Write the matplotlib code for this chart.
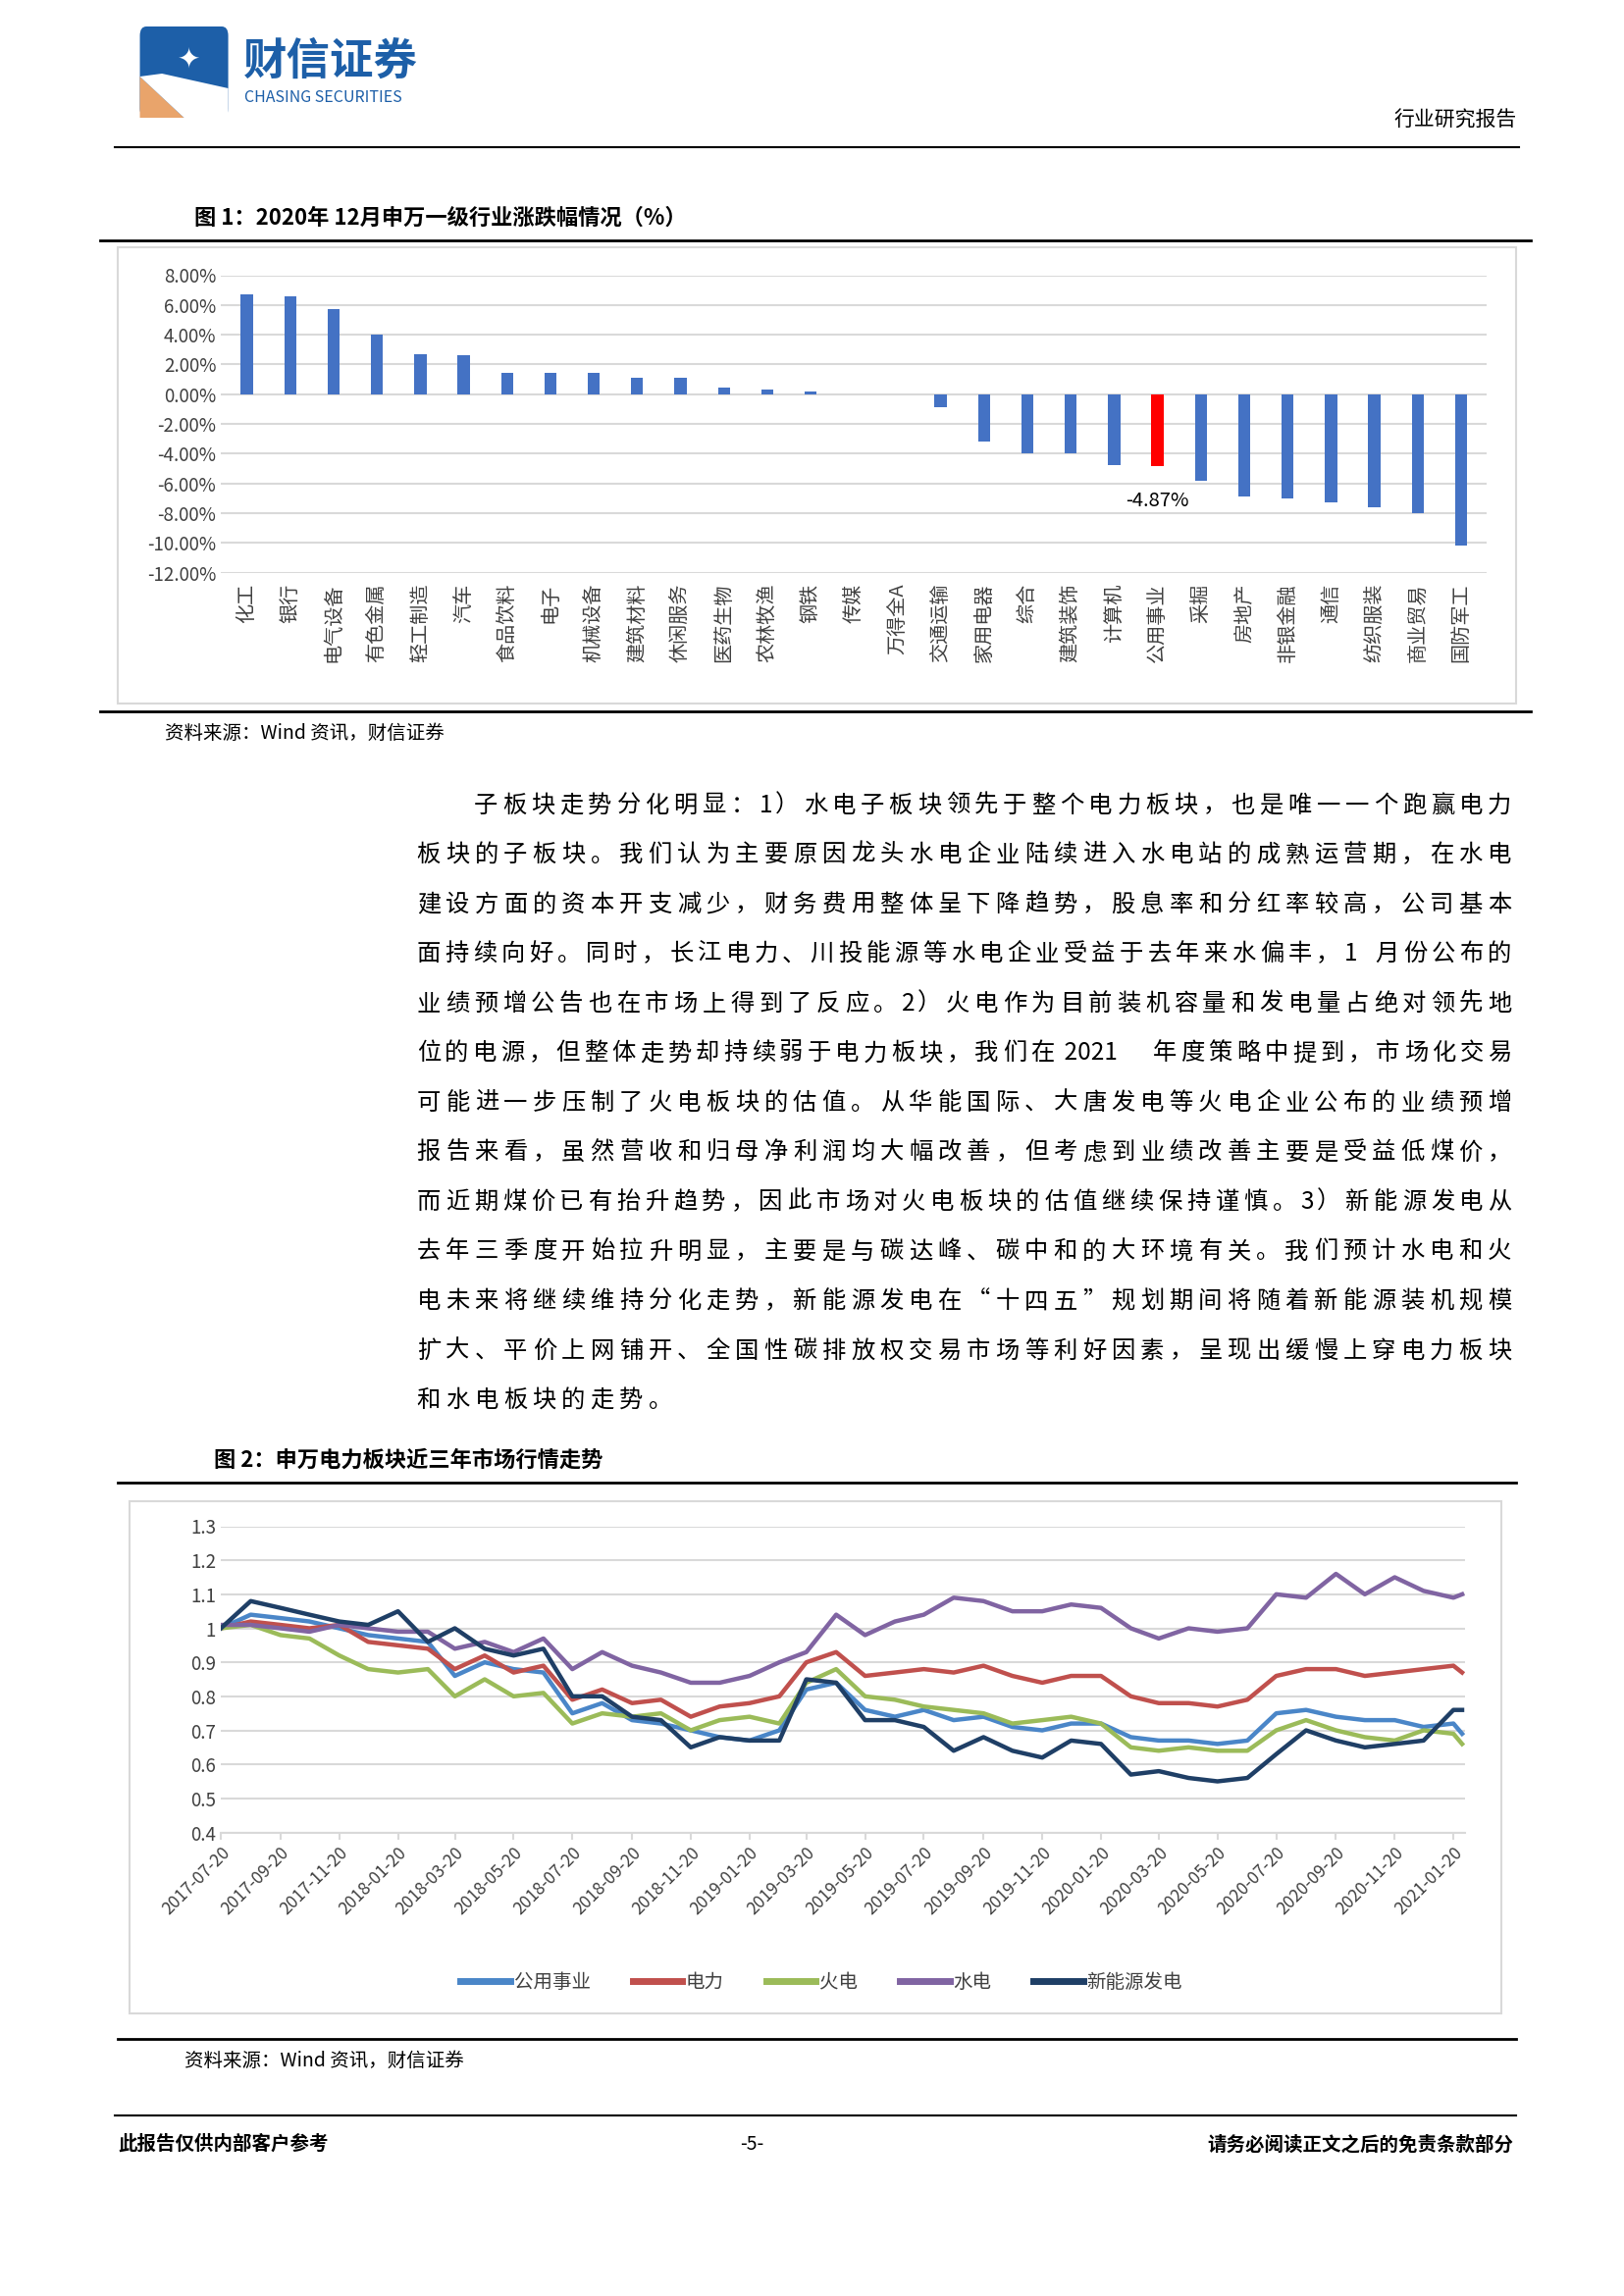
import matplotlib
matplotlib.use("Agg")
import matplotlib.pyplot as plt
import matplotlib.patches as mpatches
import numpy as np
import pandas as pd

plt.rcParams['font.family'] = ['Noto Sans CJK SC', 'DejaVu Sans']

# ---------------- data ----------------
industries = ["化工","银行","电气设备","有色金属","轻工制造","汽车","食品饮料","电子","机械设备","建筑材料",
              "休闲服务","医药生物","农林牧渔","钢铁","传媒","万得全A","交通运输","家用电器","综合","建筑装饰",
              "计算机","公用事业","采掘","房地产","非银金融","通信","纺织服装","商业贸易","国防军工"]
changes = [6.7,6.6,5.7,4.0,2.7,2.6,1.4,1.4,1.4,1.1,1.1,0.45,0.3,0.15,-0.05,-0.05,-0.9,-3.2,-4.0,-4.0,
           -4.8,-4.87,-5.8,-6.9,-7.0,-7.3,-7.6,-8.0,-10.2]

dates = list(pd.date_range("2017-07-01", "2021-01-01", freq="MS") + pd.Timedelta(days=19)) + [pd.Timestamp("2021-01-29")]
utility = [1.00,1.04,1.03,1.02,1.00,0.98,0.97,0.96,0.86,0.90,0.88,0.87,0.75,0.78,0.73,0.72,0.70,0.68,0.67,0.70,
           0.82,0.84,0.76,0.74,0.76,0.73,0.74,0.71,0.70,0.72,0.72,0.68,0.67,0.67,0.66,0.67,0.75,0.76,0.74,0.73,
           0.73,0.71,0.72,0.69]
power = [1.00,1.02,1.01,1.00,1.01,0.96,0.95,0.94,0.88,0.92,0.87,0.89,0.79,0.82,0.78,0.79,0.74,0.77,0.78,0.80,
         0.90,0.93,0.86,0.87,0.88,0.87,0.89,0.86,0.84,0.86,0.86,0.80,0.78,0.78,0.77,0.79,0.86,0.88,0.88,0.86,
         0.87,0.88,0.89,0.87]
thermal = [1.00,1.01,0.98,0.97,0.92,0.88,0.87,0.88,0.80,0.85,0.80,0.81,0.72,0.75,0.74,0.75,0.70,0.73,0.74,0.72,
           0.84,0.88,0.80,0.79,0.77,0.76,0.75,0.72,0.73,0.74,0.72,0.65,0.64,0.65,0.64,0.64,0.70,0.73,0.70,0.68,
           0.67,0.70,0.69,0.66]
hydro = [1.01,1.01,1.00,0.99,1.01,1.00,0.99,0.99,0.94,0.96,0.93,0.97,0.88,0.93,0.89,0.87,0.84,0.84,0.86,0.90,
         0.93,1.04,0.98,1.02,1.04,1.09,1.08,1.05,1.05,1.07,1.06,1.00,0.97,1.00,0.99,1.00,1.10,1.09,1.16,1.10,
         1.15,1.11,1.09,1.10]
newenergy = [1.00,1.08,1.06,1.04,1.02,1.01,1.05,0.96,1.00,0.94,0.92,0.94,0.80,0.80,0.74,0.73,0.65,0.68,0.67,0.67,
             0.85,0.84,0.73,0.73,0.71,0.64,0.68,0.64,0.62,0.67,0.66,0.57,0.58,0.56,0.55,0.56,0.63,0.70,0.67,0.65,
             0.66,0.67,0.76,0.76]
series_names = ["公用事业","电力","火电","水电","新能源发电"]
series_colors = ["#4a86c8","#c0504d","#9bbb59","#8064a2","#1f3f66"]
tick_dates = pd.date_range("2017-07-01", "2021-01-01", freq="2MS") + pd.Timedelta(days=19)

paragraph = [
 "子板块走势分化明显：1）水电子板块领先于整个电力板块，也是唯一一个跑赢电力",
 "板块的子板块。我们认为主要原因龙头水电企业陆续进入水电站的成熟运营期，在水电",
 "建设方面的资本开支减少，财务费用整体呈下降趋势，股息率和分红率较高，公司基本",
 "面持续向好。同时，长江电力、川投能源等水电企业受益于去年来水偏丰，1 月份公布的",
 "业绩预增公告也在市场上得到了反应。2）火电作为目前装机容量和发电量占绝对领先地",
 "位的电源，但整体走势却持续弱于电力板块，我们在 2021 年度策略中提到，市场化交易",
 "可能进一步压制了火电板块的估值。从华能国际、大唐发电等火电企业公布的业绩预增",
 "报告来看，虽然营收和归母净利润均大幅改善，但考虑到业绩改善主要是受益低煤价，",
 "而近期煤价已有抬升趋势，因此市场对火电板块的估值继续保持谨慎。3）新能源发电从",
 "去年三季度开始拉升明显，主要是与碳达峰、碳中和的大环境有关。我们预计水电和火",
 "电未来将继续维持分化走势，新能源发电在“十四五”规划期间将随着新能源装机规模",
 "扩大、平价上网铺开、全国性碳排放权交易市场等利好因素，呈现出缓慢上穿电力板块",
 "和水电板块的走势。",
]

# ---------------- layout helpers (display coords of a 1103x1560 page) ----------------
W, H = 1103.0, 1560.0
fig = plt.figure(figsize=(16.55, 23.4), dpi=100)
fig.patch.set_facecolor("white")
def fx(x): return x / W
def fy(y): return 1 - y / H
def hline(x0, x1, y, lw=1.5):
    fig.add_artist(plt.Line2D([fx(x0), fx(x1)], [fy(y), fy(y)], color="black", lw=lw))
def box(x0, y0, x1, y1):
    fig.add_artist(mpatches.Rectangle((fx(x0), fy(y1)), fx(x1)-fx(x0), fy(y0)-fy(y1),
                   fill=False, edgecolor="#d9d9d9", lw=1.5))
def axes_px(x0, y0, x1, y1):
    return fig.add_axes([fx(x0), fy(y1), fx(x1)-fx(x0), fy(y0)-fy(y1)])

# header / logo
fig.add_artist(mpatches.FancyBboxPatch((fx(95), fy(80)), fx(60), fy(18)-fy(80),
               boxstyle="round,pad=0,rounding_size=0.004", facecolor="#1d5fa8", edgecolor="none"))
fig.add_artist(mpatches.Polygon([(fx(95), fy(80)), (fx(95), fy(52)), (fx(125), fy(80))],
               closed=True, facecolor="#e9a46b", edgecolor="none"))
fig.add_artist(mpatches.Polygon([(fx(95), fy(52)), (fx(125), fy(80)), (fx(155), fy(80)), (fx(155), fy(60)), (fx(110), fy(50))],
               closed=True, facecolor="white", edgecolor="none"))
fig.text(fx(128), fy(40), "✦", fontsize=20, color="white", ha="center", va="center", family=["DejaVu Sans"])
fig.text(fx(165), fy(42), "财信证券", fontsize=32, color="#1d5fa8", ha="left", va="center", fontweight="bold")
fig.text(fx(166), fy(66), "CHASING SECURITIES", fontsize=11.5, color="#1d5fa8", ha="left", va="center")
fig.text(fx(1030), fy(82), "行业研究报告", fontsize=15, color="black", ha="right", va="center")
hline(78, 1032, 100, 1.5)

# ---------------- figure 1 ----------------
fig.text(fx(132), fy(148), "图 1：2020年 12月申万一级行业涨跌幅情况（%）", fontsize=16, fontweight="bold", ha="left", va="center")
hline(68, 1040, 163, 2)
box(80, 168, 1030, 478)
ax1 = axes_px(150, 187, 1010, 389)
x = np.arange(len(industries))
cols = ["#ff0000" if n == "公用事业" else "#4472c4" for n in industries]
ax1.bar(x, changes, width=0.28, color=cols, zorder=3)
ax1.set_ylim(-12, 8)
ax1.set_xlim(-0.6, len(industries)-0.4)
ax1.set_yticks(np.arange(-12, 9, 2))
ax1.set_yticklabels([f"{v:.2f}%" for v in np.arange(-12, 9, 2)], fontsize=13.5, color="#404040")
ax1.yaxis.grid(True, color="#d9d9d9", lw=1.5, zorder=0)
ax1.set_xticks(x)
ax1.set_xticklabels(industries, rotation=90, fontsize=14.5, color="#404040", ha="center")
ax1.tick_params(axis="x", length=0, pad=8)
ax1.tick_params(axis="y", length=0)
for s in ax1.spines.values():
    s.set_visible(False)
i = industries.index("公用事业")
ax1.text(i, changes[i]-1.6, f"{changes[i]:.2f}%", ha="center", va="top", fontsize=14.5, color="black")
fig.text(fx(112), fy(498), "资料来源：Wind 资讯，财信证券", fontsize=14, style="italic", ha="left", va="center")
hline(68, 1040, 483, 2)

# ---------------- paragraph ----------------
fs = 17.5
char_w = 19.66
x_left, x_right = 283, 1030
def tokens(s):
    toks, buf = [], ""
    for ch in s:
        if ord(ch) < 128:
            buf += ch
        else:
            if buf:
                toks.append(buf); buf = ""
            toks.append(ch)
    if buf: toks.append(buf)
    return toks
for k, line in enumerate(paragraph):
    y = 547 + k * 33.7
    x0 = x_left + (39 if k == 0 else 0)
    toks = tokens(line)
    widths = [char_w * (0.55 * len(t) if ord(t[0]) < 128 else 1.0) for t in toks]
    if k < len(paragraph) - 1:
        gap = (x_right - x0 - sum(widths)) / max(len(toks) - 1, 1)
    else:
        gap = 0
    cx = x0
    for t, wdt in zip(toks, widths):
        fig.text(fx(cx), fy(y), t, fontsize=fs, ha="left", va="center")
        cx += wdt + gap

# ---------------- figure 2 ----------------
fig.text(fx(145), fy(992), "图 2：申万电力板块近三年市场行情走势", fontsize=16, fontweight="bold", ha="left", va="center")
hline(80, 1030, 1007, 2)
box(88, 1020, 1020, 1368)
ax2 = axes_px(150, 1037, 995, 1245)
for name, vals, c in zip(series_names, [utility, power, thermal, hydro, newenergy], series_colors):
    ax2.plot(dates, vals, color=c, lw=3.2, label=name, zorder=3)
ax2.set_ylim(0.4, 1.3)
ax2.set_yticks(np.round(np.arange(0.4, 1.31, 0.1), 1))
ax2.set_yticklabels(["0.4","0.5","0.6","0.7","0.8","0.9","1","1.1","1.2","1.3"], fontsize=13.5, color="#404040")
ax2.yaxis.grid(True, color="#d9d9d9", lw=1.5, zorder=0)
ax2.set_xlim(pd.Timestamp("2017-07-20"), pd.Timestamp("2021-02-01"))
ax2.set_xticks(tick_dates)
ax2.set_xticklabels([d.strftime("%Y-%m-%d") for d in tick_dates], rotation=45, ha="right",
                    rotation_mode="anchor", fontsize=12.5, color="#404040")
ax2.tick_params(axis="y", length=0)
ax2.tick_params(axis="x", length=5, color="#d9d9d9", width=1.5)
for s in ["top", "right", "left"]:
    ax2.spines[s].set_visible(False)
ax2.spines["bottom"].set_color("#d9d9d9")
ax2.spines["bottom"].set_linewidth(1.5)
leg = fig.legend(*ax2.get_legend_handles_labels(), loc="center", bbox_to_anchor=(fx(558), fy(1347)),
           ncol=5, frameon=False, fontsize=14, handlelength=2.6, columnspacing=2.2, handletextpad=0.2,
           labelcolor="#404040")
for lh in leg.get_lines():
    lh.set_linewidth(5)
hline(80, 1030, 1385, 2)
fig.text(fx(125), fy(1400), "资料来源：Wind 资讯，财信证券", fontsize=14, style="italic", ha="left", va="center")

# footer
hline(78, 1030, 1437, 1.5)
fig.text(fx(80), fy(1457), "此报告仅供内部客户参考", fontsize=14, fontweight="bold", ha="left", va="center")
fig.text(fx(511), fy(1457), "-5-", fontsize=14, ha="center", va="center")
fig.text(fx(1028), fy(1457), "请务必阅读正文之后的免责条款部分", fontsize=14, fontweight="bold", ha="right", va="center")

fig.savefig("out.png", dpi=100, facecolor="white")
